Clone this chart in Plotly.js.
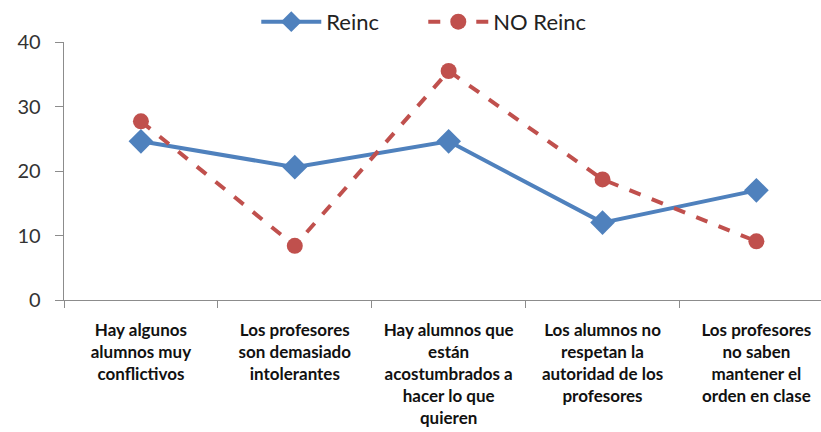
<!DOCTYPE html>
<html><head><meta charset="utf-8">
<script src="https://cdn.plot.ly/plotly-3.0.1.min.js"></script>
<style>body{margin:0;background:#fff}#c{width:821px;height:432px}</style>
</head><body><div id="c"></div>
<script>
var categories = [
  "Hay algunos<br>alumnos muy<br>conflictivos",
  "Los profesores<br>son demasiado<br>intolerantes",
  "Hay alumnos que<br>están<br>acostumbrados a<br>hacer lo que<br>quieren",
  "Los alumnos no<br>respetan la<br>autoridad de los<br>profesores",
  "Los profesores<br>no saben<br>mantener el<br>orden en clase"
];
var reinc = [24.6, 20.6, 24.6, 12.0, 17.0];
var noReinc = [27.7, 8.4, 35.5, 18.7, 9.1];
var seriesNames = ["Reinc", "NO Reinc"];
var yTicks = [0, 10, 20, 30, 40];

var traces = [
  {x: categories, y: reinc, name: seriesNames[0], type: "scatter", mode: "lines+markers",
   line: {color: "#4F81BD", width: 4}, marker: {symbol: "diamond", size: 19, color: "#4F81BD"}},
  {x: categories, y: noReinc, name: seriesNames[1], type: "scatter", mode: "lines+markers",
   line: {color: "#C0504D", width: 4, dash: "dash"}, marker: {symbol: "circle", size: 16, color: "#C0504D"}}
];
var layout = {
  width: 821, height: 432,
  margin: {l: 64, r: 0, t: 42, b: 132},
  paper_bgcolor: "#fff", plot_bgcolor: "#fff",
  font: {family: "Lato, 'Open Sans', sans-serif", color: "#222"},
  showlegend: true,
  legend: {orientation: "h", x: 0.254, xanchor: "left", y: 1.078, yanchor: "middle",
           font: {size: 22, family: "Lato, 'Open Sans', sans-serif", color: "#222"},
           itemwidth: 60, entrywidth: 92, entrywidthmode: "pixels", traceorder: "normal"},
  xaxis: {type: "category", range: [-0.5, 4.42], showgrid: false, zeroline: false,
          showline: true, linecolor: "#8c8c8c", linewidth: 1.3,
          ticks: "outside", tickson: "boundaries", ticklen: 7, tickcolor: "#8c8c8c",
          tickfont: {size: 17, family: "Lato, 'Open Sans', sans-serif", color: "#111", weight: "bold"},
          tickangle: 0, ticklabelstandoff: 14},
  yaxis: {range: [0, 40], tickvals: yTicks, showgrid: false, zeroline: false,
          showline: true, linecolor: "#8c8c8c", linewidth: 1.3,
          ticks: "outside", ticklen: 8, tickcolor: "#8c8c8c",
          tickfont: {size: 20, color: "#333"}, ticklabelstandoff: 10}
};
Plotly.newPlot("c", traces, layout, {displayModeBar: false, staticPlot: true});
</script></body></html>
